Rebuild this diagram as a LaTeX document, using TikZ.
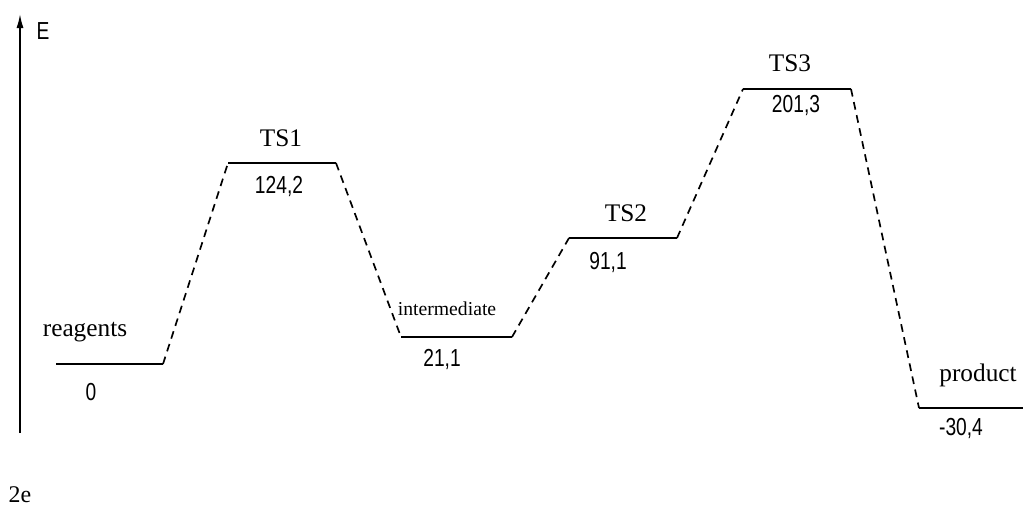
\documentclass[tikz,border=0pt]{standalone}
\usepackage{fontspec}
\setmainfont{Liberation Serif}
\newfontfamily\numfont[FakeStretch=0.78]{Liberation Sans}
\usetikzlibrary{arrows.meta}
\usetikzlibrary{calc}

\tikzset{
levelline/.style={line width=1.4pt},
link/.style={line width=1.2pt, dash pattern=on 5.5pt off 4pt},
statelabel/.style={font=\fontsize{18}{20}\selectfont, inner sep=0pt},
numlabel/.style={font=\numfont\fontsize{17.5}{19}\selectfont, inner sep=0pt}
}

\begin{document}
\begin{tikzpicture}[x=0.025cm,y=-0.025cm]
\useasboundingbox (0,0) rectangle (1023,507);
% energy axis
\coordinate (a0) at (20,433);
\coordinate (a1) at (20,14);
\draw[line width=1.1pt,-{Latex[length=10pt,width=5pt]}] (a0) -- (a1);
\node[numlabel] (E) at (43,31) {E};
% levels
\coordinate (r1) at (56,364);  \coordinate (r2) at (163,364);
\coordinate (t1a) at (228,163); \coordinate (t1b) at (336,163);
\coordinate (i1) at (401,337); \coordinate (i2) at (512,337);
\coordinate (t2a) at (569,238); \coordinate (t2b) at (677,238);
\coordinate (t3a) at (743,89);  \coordinate (t3b) at (851,89);
\coordinate (p1) at (919,408); \coordinate (p2) at (1023,408);
\draw[levelline] (r1) -- (r2) (t1a) -- (t1b) (i1) -- (i2)
  (t2a) -- (t2b) (t3a) -- (t3b) (p1) -- (p2);
\draw[link] (r2) -- (t1a) (t1b) -- (i1) (i2) -- (t2a)
  (t2b) -- (t3a) (t3b) -- (p1);
% labels
\node[statelabel] (reag) at (85,332) {reagents};
\node[numlabel] (v0) at (91,392) {0};
\node[statelabel] (ts1) at (281,138) {TS1};
\node[numlabel] (v1) at (279,186) {124,2};
\node[statelabel, font=\fontsize{14}{16}\selectfont, fill=white, inner sep=1pt] (inter) at (447,309) {intermediate};
\node[numlabel] (v2) at (442,359) {21,1};
\node[statelabel] (ts2) at (626,213) {TS2};
\node[numlabel] (v3) at (608,262) {91,1};
\node[statelabel] (ts3) at (790,63) {TS3};
\node[numlabel] (v4) at (796,105) {201,3};
\node[statelabel] (prod) at (978,375) {product};
\node[numlabel] (v5) at (961,428) {-30,4};
\node[statelabel, font=\fontsize{17}{19}\selectfont] (fig) at (20,495) {2e};
\end{tikzpicture}
\end{document}
